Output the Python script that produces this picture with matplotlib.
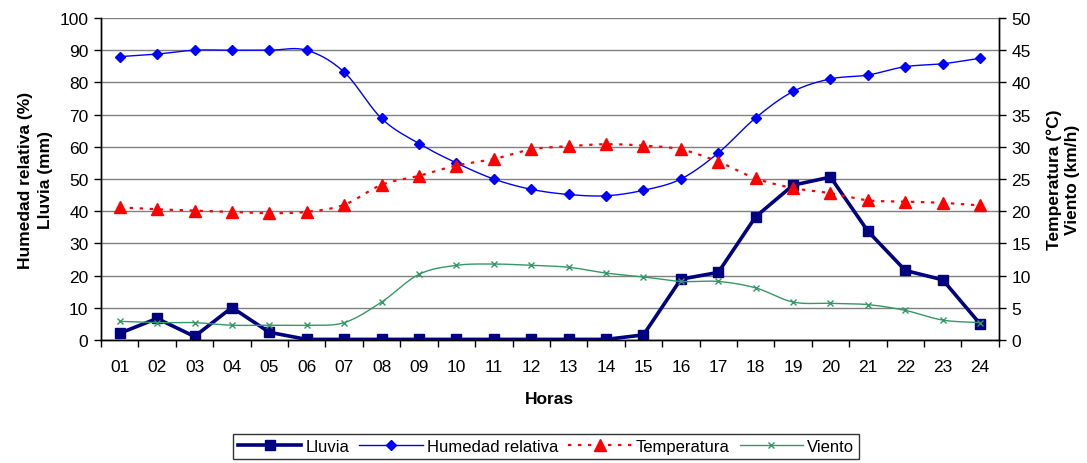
import numpy as np
import matplotlib
matplotlib.use("Agg")
import matplotlib.pyplot as plt
from matplotlib.lines import Line2D
from matplotlib.ticker import MultipleLocator, FixedLocator

plt.rcParams["font.family"] = ["Liberation Sans", "DejaVu Sans"]

horas = ["01", "02", "03", "04", "05", "06", "07", "08", "09", "10", "11", "12",
         "13", "14", "15", "16", "17", "18", "19", "20", "21", "22", "23", "24"]

lluvia = [2.1, 6.7, 1.1, 10.1, 2.4, 0.2, 0.2, 0.2, 0.2, 0.2, 0.2, 0.2,
          0.2, 0.2, 1.6, 18.9, 21.0, 38.3, 48.1, 50.6, 33.8, 21.6, 18.7, 5.0]

humedad = [88.0, 88.8, 90.0, 90.0, 90.0, 90.0, 83.2, 68.8, 61.0, 55.0, 50.0, 46.8,
           45.2, 44.8, 46.5, 50.0, 58.1, 69.0, 77.2, 81.1, 82.3, 84.9, 85.8, 87.5]

temperatura = [20.6, 20.3, 20.1, 19.9, 19.7, 19.9, 21.0, 24.1, 25.5, 27.1, 28.1, 29.6,
               30.1, 30.4, 30.2, 29.6, 27.7, 25.1, 23.6, 22.8, 21.7, 21.5, 21.3, 20.9]

viento = [2.9, 2.7, 2.7, 2.3, 2.3, 2.3, 2.7, 5.9, 10.2, 11.6, 11.8, 11.6,
          11.3, 10.4, 9.8, 9.1, 9.1, 8.1, 5.9, 5.7, 5.5, 4.6, 3.1, 2.7]


def smooth(x, y, n=20):
    """Catmull-Rom curve through the given points (rendering only)."""
    x = np.asarray(x, float)
    y = np.asarray(y, float)
    px = np.concatenate([[2 * x[0] - x[1]], x, [2 * x[-1] - x[-2]]])
    py = np.concatenate([[2 * y[0] - y[1]], y, [2 * y[-1] - y[-2]]])
    xs, ys = [], []
    t = np.linspace(0, 1, n, endpoint=False)
    for i in range(1, len(px) - 2):
        p0, p1, p2, p3 = (np.array([px[j], py[j]]) for j in range(i - 1, i + 3))
        tt = t[:, None]
        pts = 0.5 * ((2 * p1) + (-p0 + p2) * tt + (2 * p0 - 5 * p1 + 4 * p2 - p3) * tt ** 2
                     + (-p0 + 3 * p1 - 3 * p2 + p3) * tt ** 3)
        xs.extend(pts[:, 0])
        ys.extend(pts[:, 1])
    xs.append(x[-1])
    ys.append(y[-1])
    return np.array(xs), np.array(ys)


x = np.arange(len(horas))

fig = plt.figure(figsize=(10.87, 4.64), dpi=100)
ax = fig.add_axes([0.0929, 0.265, 0.826, 0.694])
ax2 = ax.twinx()

c_lluvia = "#000080"
c_hum = "#0000FF"
c_temp = "#FF0000"
c_viento = "#339966"

FS = 12.5

# left axis: humidity and rain
hx, hy = smooth(x, humedad)
ax.plot(hx, hy, color=c_hum, lw=1.0, zorder=3)
ax.plot(x, humedad, ls="none", marker="D", ms=5.5, color=c_hum, zorder=4)
ax.plot(x, lluvia, color=c_lluvia, lw=2.6, marker="s", ms=6.5, zorder=5)

# right axis: temperature and wind
tx, ty = smooth(x, temperatura)
ax2.plot(tx, ty, color=c_temp, lw=1.6, ls=(0, (1.5, 3)), zorder=3)
ax2.plot(x, temperatura, ls="none", marker="^", ms=8, color=c_temp, zorder=4)
vx, vy = smooth(x, viento)
ax2.plot(vx, vy, color=c_viento, lw=1.0, zorder=3)
ax2.plot(x, viento, ls="none", marker="x", ms=5, mew=1.0, color=c_viento, zorder=4)

ax.set_xlim(-0.5, len(horas) - 0.5)
ax.set_ylim(0, 100)
ax2.set_ylim(0, 50)

ax.yaxis.set_major_locator(MultipleLocator(10))
ax2.yaxis.set_major_locator(MultipleLocator(5))
ax.set_xticks(x)
ax.set_xticklabels(horas)
ax.xaxis.set_minor_locator(FixedLocator(np.arange(-0.5, len(horas), 1.0)))
ax.tick_params(axis="x", which="major", length=0, pad=14, labelsize=FS)
ax.tick_params(axis="x", which="minor", length=5, width=1, direction="out")
ax.tick_params(axis="y", length=5, width=1, direction="out", labelsize=FS, pad=4)
ax2.tick_params(axis="y", length=5, width=1, direction="out", labelsize=FS, pad=4)

ax.grid(axis="y", color="#808080", lw=1.0)
ax.set_axisbelow(True)

for a in (ax, ax2):
    a.spines["top"].set_visible(False)
    for s in ("left", "right", "bottom"):
        a.spines[s].set_color("black")
        a.spines[s].set_linewidth(1.0)

ax.set_ylabel("Humedad relativa (%)\nLluvia (mm)", fontsize=FS, fontweight="bold",
              labelpad=5, linespacing=1.4)
ax2.set_ylabel("Temperatura (°C)\nViento (km/h)", fontsize=FS, fontweight="bold",
               labelpad=11, linespacing=1.25)
ax.set_xlabel("Horas", fontsize=FS, fontweight="bold", labelpad=12)

handles = [
    Line2D([], [], color=c_lluvia, lw=2.6, marker="s", ms=6.5),
    Line2D([], [], color=c_hum, lw=1.0, marker="D", ms=5.5),
    Line2D([], [], color=c_temp, lw=1.6, ls=(0, (1.5, 3)), marker="^", ms=8),
    Line2D([], [], color=c_viento, lw=1.0, marker="x", ms=5, mew=1.0),
]
labels = ["Lluvia", "Humedad relativa", "Temperatura", "Viento"]
leg = fig.legend(handles, labels, loc="center", bbox_to_anchor=(0.5025, 0.0355), ncol=4,
                 frameon=True, fancybox=False, fontsize=12, handlelength=3.8,
                 handletextpad=0.25, columnspacing=0.6, borderpad=0.3)
leg.get_frame().set_edgecolor("black")
leg.get_frame().set_linewidth(1.0)

fig.savefig("out.png", dpi=100)
